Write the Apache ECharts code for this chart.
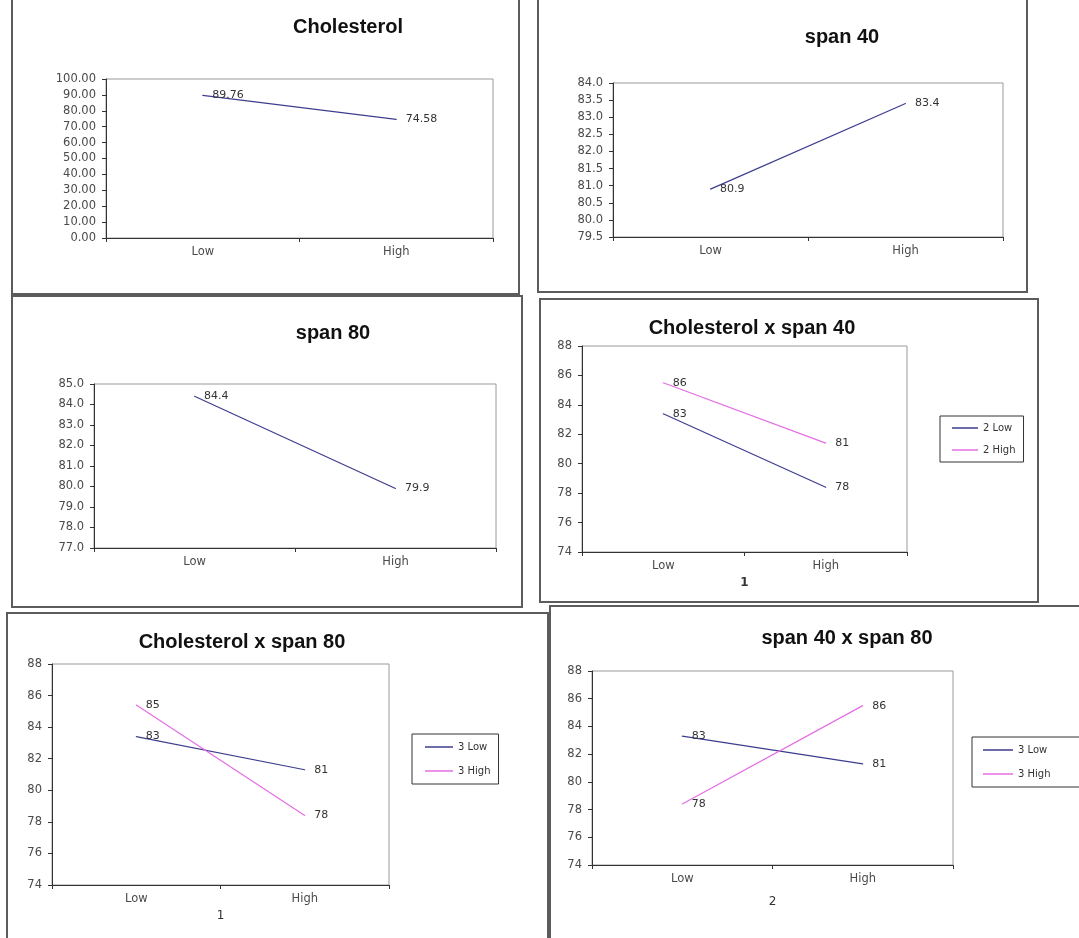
<!DOCTYPE html>
<html>
<head>
<meta charset="utf-8">
<script src="https://cdn.jsdelivr.net/npm/echarts@6/dist/echarts.min.js"></script>
<style>
html,body{margin:0;padding:0;background:#fff;}
#chart{width:1079px;height:938px;}
</style>
</head>
<body>
<div id="chart"></div>
<script>
// ---- Data ----
const categories = ['Low', 'High'];

const cholesterolValues = [89.76, 74.58];
const span40Values = [80.9, 83.4];
const span80Values = [84.4, 79.9];

const cholSpan40Low = [83.4, 78.4];
const cholSpan40High = [85.5, 81.4];

const cholSpan80Low = [83.4, 81.3];
const cholSpan80High = [85.4, 78.4];

const span40Span80Low = [83.3, 81.3];
const span40Span80High = [78.4, 85.5];

const cholesterolTicks = [0, 10, 20, 30, 40, 50, 60, 70, 80, 90, 100];
const span40Ticks = [79.5, 80, 80.5, 81, 81.5, 82, 82.5, 83, 83.5, 84];
const span80Ticks = [77, 78, 79, 80, 81, 82, 83, 84, 85];
const interactionTicks = [74, 76, 78, 80, 82, 84, 86, 88];

const panelTitles = ['Cholesterol', 'span 40', 'span 80', 'Cholesterol x span 40', 'Cholesterol x span 80', 'span 40 x span 80'];
const legendNames4 = ['2 Low', '2 High'];
const legendNames56 = ['3 Low', '3 High'];
const axisNames = ['', '', '', '1', '1', '2'];

// ---- Layout / style ----
const NAVY = '#3d3d8f';
const PINK = '#e46ee4';
const AXIS = '#333';
const LABEL = '#4a4a4a';
const FONT = 'DejaVu Sans';

const grids = [
  {left: 106, top: 79, width: 387, height: 159},
  {left: 613, top: 83, width: 390, height: 154},
  {left: 94, top: 384, width: 402, height: 164},
  {left: 582, top: 346, width: 325, height: 206},
  {left: 52, top: 664, width: 337, height: 221},
  {left: 592, top: 671, width: 361, height: 194}
];
const titlePos = [[343, 12], [837, 22], [328, 318], [747, 313], [237, 627], [842, 623]];
const yTicks = [cholesterolTicks, span40Ticks, span80Ticks, interactionTicks, interactionTicks, interactionTicks];
const yDecimals = [2, 1, 1, 0, 0, 0];
const nameGaps = [0, 0, 0, 25, 25, 31];

const borders = [
  [12, -5, 507, 299],
  [538, -5, 489, 297],
  [12, 296, 510, 311],
  [540, 299, 498, 303],
  [7, 613, 541, 340],
  [550, 606, 540, 340]
];

const chart = echarts.init(document.getElementById('chart'), null, {renderer: 'canvas'});

const option = {
  backgroundColor: '#fff',
  animation: false,
  title: panelTitles.map((t, i) => ({
    text: t,
    left: titlePos[i][0],
    top: titlePos[i][1],
    textAlign: 'center',
    textStyle: {fontFamily: 'Liberation Sans', fontWeight: 'bold', fontSize: 20, color: '#111'}
  })),
  grid: grids.map(g => Object.assign({show: true, borderColor: '#9a9a9a', borderWidth: 1, backgroundColor: '#fff'}, g)),
  xAxis: grids.map((g, i) => ({
    type: 'category',
    gridIndex: i,
    data: categories,
    boundaryGap: true,
    name: axisNames[i],
    nameLocation: 'middle',
    nameGap: nameGaps[i],
    nameTextStyle: {fontFamily: FONT, fontSize: 12, color: '#333', fontWeight: i === 3 ? 'bold' : 'normal'},
    axisLine: {lineStyle: {color: AXIS, width: 1}},
    axisTick: {show: true, length: 4, lineStyle: {color: AXIS}},
    axisLabel: {fontFamily: FONT, fontSize: 11.5, color: LABEL, margin: 8},
    splitLine: {show: false}
  })),
  yAxis: grids.map((g, i) => ({
    type: 'value',
    gridIndex: i,
    min: yTicks[i][0],
    max: yTicks[i][yTicks[i].length - 1],
    interval: yTicks[i][1] - yTicks[i][0],
    axisLine: {show: true, lineStyle: {color: AXIS, width: 1}},
    axisTick: {show: true, length: 4, lineStyle: {color: AXIS}},
    axisLabel: {fontFamily: FONT, fontSize: 11.5, color: LABEL, margin: 10,
      formatter: v => v.toFixed(yDecimals[i])},
    splitLine: {show: false}
  })),
  legend: [
    {data: legendNames4, left: 940, top: 416, orient: 'vertical', icon: 'rect', itemWidth: 26, itemHeight: 1.5,
     itemGap: 12, padding: [7, 8, 7, 12], borderColor: '#333', borderWidth: 1,
     textStyle: {fontFamily: FONT, fontSize: 10, color: '#333'}, selectedMode: false},
    {data: legendNames56, left: 412, top: 734, orient: 'vertical', icon: 'rect', itemWidth: 28, itemHeight: 1.5,
     itemGap: 14, padding: [8, 8, 8, 13], borderColor: '#333', borderWidth: 1,
     textStyle: {fontFamily: FONT, fontSize: 10, color: '#333'}, selectedMode: false},
    {data: legendNames56, left: 972, top: 737, orient: 'vertical', icon: 'rect', itemWidth: 30, itemHeight: 1.5,
     itemGap: 14, padding: [8, 30, 8, 11], borderColor: '#333', borderWidth: 1,
     textStyle: {fontFamily: FONT, fontSize: 10, color: '#333'}, selectedMode: false}
  ],
  graphic: borders.map(b => ({
    type: 'rect',
    shape: {x: b[0], y: b[1], width: b[2], height: b[3]},
    style: {fill: 'none', stroke: '#5c5c5c', lineWidth: 2},
    z: 100
  })),
  series: []
};

function lineSeries(name, data, gi, color, decimals) {
  return {
    name: name,
    type: 'line',
    xAxisIndex: gi,
    yAxisIndex: gi,
    data: data,
    symbol: 'circle',
    symbolSize: 1,
    itemStyle: {color: color},
    lineStyle: {color: color, width: 1.2},
    label: {
      show: true,
      position: 'right',
      distance: 9,
      fontFamily: FONT,
      fontSize: 11,
      color: '#333',
      formatter: p => decimals === 0 ? String(Math.round(p.value)) : p.value.toFixed(decimals)
    }
  };
}

option.series.push(lineSeries('Cholesterol', cholesterolValues, 0, NAVY, 2));
option.series.push(lineSeries('span 40', span40Values, 1, NAVY, 1));
option.series.push(lineSeries('span 80', span80Values, 2, NAVY, 1));
option.series.push(lineSeries('2 Low', cholSpan40Low, 3, NAVY, 0));
option.series.push(lineSeries('2 High', cholSpan40High, 3, PINK, 0));
option.series.push(lineSeries('3 Low', cholSpan80Low, 4, NAVY, 0));
option.series.push(lineSeries('3 High', cholSpan80High, 4, PINK, 0));
option.series.push(lineSeries('3 Low', span40Span80Low, 5, NAVY, 0));
option.series.push(lineSeries('3 High', span40Span80High, 5, PINK, 0));

chart.setOption(option);
</script>
</body>
</html>
